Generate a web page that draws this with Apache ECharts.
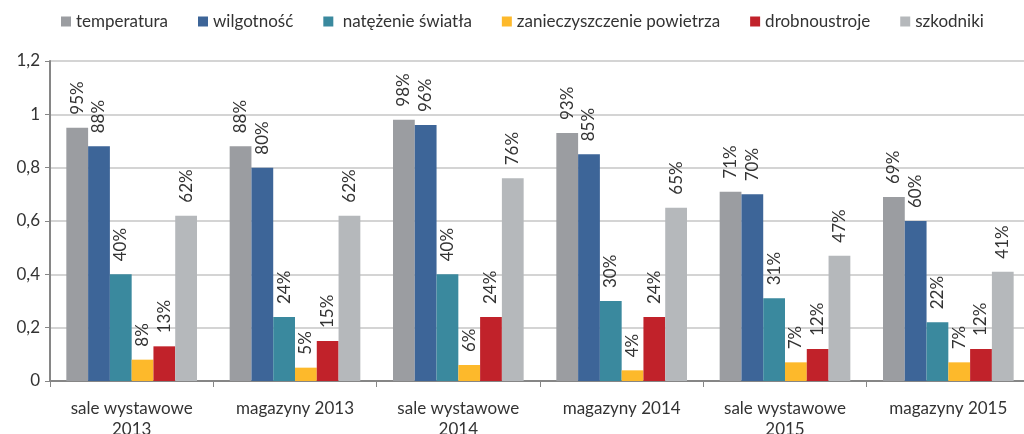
<!DOCTYPE html>
<html>
<head>
    <meta charset="utf-8">
    <title>ECharts</title>
    <script src="https://cdn.jsdelivr.net/npm/echarts@6/dist/echarts.min.js"></script>
    <style>
        html, body { margin: 0; padding: 0; background: #fff; }
    </style>
</head>
<body>
    <div id="main" style="width: 1024px;height:434px;"></div>
    <script type="text/javascript">
        var categories = ['sale wystawowe\n2013', 'magazyny 2013', 'sale wystawowe\n2014',
                          'magazyny 2014', 'sale wystawowe\n2015', 'magazyny 2015'];
        var seriesNames = ['temperatura', 'wilgotność', ' natężenie światła',
                           'zanieczyszczenie powietrza', 'drobnoustroje', 'szkodniki'];
        var temperatura = [0.95, 0.88, 0.98, 0.93, 0.71, 0.69];
        var wilgotnosc = [0.88, 0.80, 0.96, 0.85, 0.70, 0.60];
        var natezenie = [0.40, 0.24, 0.40, 0.30, 0.31, 0.22];
        var zanieczyszczenie = [0.08, 0.05, 0.06, 0.04, 0.07, 0.07];
        var drobnoustroje = [0.13, 0.15, 0.24, 0.24, 0.12, 0.12];
        var szkodniki = [0.62, 0.62, 0.76, 0.65, 0.47, 0.41];
        var colors = ['#9b9da1', '#3d6598', '#3a899e', '#fdb92b', '#c1222a', '#b5b8bb'];

        var allValues = [temperatura, wilgotnosc, natezenie, zanieczyszczenie, drobnoustroje, szkodniki];
        var font = 'Lato, "Open Sans", sans-serif';

        var myChart = echarts.init(document.getElementById('main'));

        var series = allValues.map(function (vals, i) {
            return {
                name: seriesNames[i],
                type: 'bar',
                data: vals,
                barGap: '0%',
                barCategoryGap: '20%',
                itemStyle: { color: colors[i] },
                label: {
                    show: true,
                    position: 'top',
                    rotate: 90,
                    align: 'left',
                    verticalAlign: 'middle',
                    distance: 13,
                    fontFamily: font,
                    fontSize: 17,
                    color: '#333',
                    formatter: function (p) { return Math.round(p.value * 100) + '%'; }
                }
            };
        });

        var option = {
            animation: false,
            textStyle: { fontFamily: font },
            legend: {
                data: seriesNames,
                top: 8,
                left: 56,
                itemWidth: 10,
                itemHeight: 10,
                itemGap: 30,
                icon: 'rect',
                textStyle: { fontSize: 17, color: '#333', fontFamily: font }
            },
            grid: { left: 50, right: -6, top: 61, bottom: 53, containLabel: false, outerBoundsMode: 'none' },
            xAxis: {
                type: 'category',
                data: categories,
                axisLine: { lineStyle: { color: '#868686', width: 2 } },
                axisTick: { show: true, length: 6, lineStyle: { color: '#868686' } },
                axisLabel: { fontSize: 17, color: '#333', margin: 17, lineHeight: 21, fontFamily: font }
            },
            yAxis: {
                type: 'value',
                min: 0,
                max: 1.2,
                interval: 0.2,
                axisLine: { show: true, lineStyle: { color: '#868686', width: 2 } },
                axisTick: { show: true, length: 5, lineStyle: { color: '#868686' } },
                splitLine: { lineStyle: { color: '#c6c6c6', width: 1.5 } },
                axisLabel: {
                    fontSize: 17, color: '#333', margin: 10, fontFamily: font,
                    formatter: function (v) { return String(Math.round(v * 10) / 10).replace('.', ','); }
                }
            },
            series: series
        };

        myChart.setOption(option);
    </script>
</body>
</html>
